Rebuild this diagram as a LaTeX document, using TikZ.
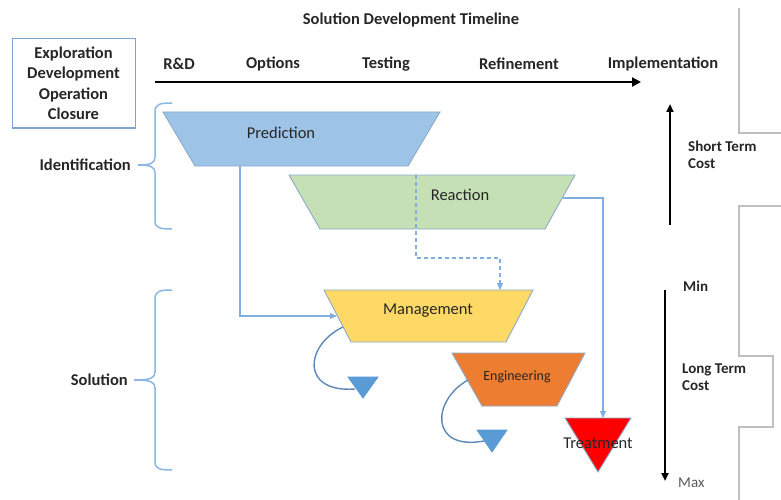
\documentclass[tikz,border=0pt]{standalone}
\usepackage{fontspec}
\setmainfont{Carlito}
\usetikzlibrary{arrows.meta}

\definecolor{ink}{HTML}{262626}
\definecolor{softink}{HTML}{595959}
\definecolor{outline}{HTML}{8EAACB}
\definecolor{connblue}{HTML}{7FAEDF}
\definecolor{braceblue}{HTML}{8DB6E3}
\definecolor{curlblue}{HTML}{5E88B6}
\definecolor{boxblue}{HTML}{7AA6D6}
\definecolor{predfill}{HTML}{9DC3E6}
\definecolor{reactfill}{HTML}{C5E0B4}
\definecolor{mgmtfill}{HTML}{FFD966}
\definecolor{engfill}{HTML}{ED7D31}
\definecolor{treatred}{HTML}{FF0000}
\definecolor{dropblue}{HTML}{5B9BD5}
\definecolor{framegray}{HTML}{BFBFBF}

\tikzset{
  lbl/.style={font=\fontsize{16.5}{20.5}\selectfont\bfseries, text=ink, inner sep=0pt},
  small lbl/.style={font=\fontsize{15}{16.5}\selectfont\bfseries, text=ink, inner sep=0pt, align=left},
  shapetxt/.style={font=\fontsize{16.5}{20}\selectfont, text=ink, inner sep=0pt},
  funnel/.style={draw=outline, line width=0.9pt, line join=miter},
  conn/.style={draw=connblue, line width=1.2pt, -{Triangle[length=7pt,width=6pt]}},
  dconn/.style={conn, dash pattern=on 4pt off 3pt},
  curl/.style={draw=curlblue, line width=1.4pt},
  brace/.style={draw=braceblue, line width=1.5pt},
  frame/.style={draw=framegray, line width=1.3pt},
  timearrow/.style={draw=black, line width=2.6pt, -{Triangle[length=9pt,width=9pt]}},
  costarrow/.style={draw=black, line width=2.2pt, -{Triangle[length=8pt,width=7pt]}},
  drop/.style={fill=dropblue, draw=dropblue, line width=0.8pt},
}

\begin{document}
\begin{tikzpicture}[x=1pt,y=-1pt]
\useasboundingbox (0,0) rectangle (781,500);

% title and lifecycle box
\node[lbl] (title) at (411,20) {Solution Development Timeline};
\node[lbl, draw=boxblue, line width=1pt, align=center, minimum width=123pt,
      minimum height=89pt] (phases) at (73.5,83.5)
  {Exploration\\Development\\Operation\\Closure};

% timeline stages
\node[lbl] (rd)   at (179,64) {R\&D};
\node[lbl] (opt)  at (273,64) {Options};
\node[lbl] (test) at (386,64) {Testing};
\node[lbl] (ref)  at (519,64) {Refinement};
\node[lbl] (impl) at (663,64) {Implementation};
\coordinate (tlstart) at (155,82);
\coordinate (tlend) at (641,82);
\draw[timearrow] (tlstart) -- (tlend);

% funnel stages
\draw[funnel, fill=predfill] (163,112) -- (440,112) -- (408,166) -- (195,166) -- cycle;
\node[shapetxt] (predtxt) at (281,133) {Prediction};

\draw[funnel, fill=reactfill] (289,175) -- (575,175) -- (545,229) -- (320,229) -- cycle;
\node[shapetxt] (reacttxt) at (460,195) {Reaction};

\draw[funnel, fill=mgmtfill] (324,290) -- (533,290) -- (506,342) -- (351,342) -- cycle;
\node[shapetxt] (mgmttxt) at (428,311) {Management};

\draw[funnel, fill=engfill] (452,353) -- (585,353) -- (557,406) -- (482,406) -- cycle;
\node[shapetxt, font=\fontsize{14}{16}\selectfont] (engtxt) at (517,377) {Engineering};

% treatment
\draw[funnel, fill=treatred] (565,418) -- (631,418) -- (598,472) -- cycle;
\node[shapetxt] (treat) at (598,443) {Treatment};

% outlet drops
\draw[drop] (348,377) -- (378,377) -- (363,398) -- cycle;
\draw[drop] (477,430) -- (507,430) -- (492,452) -- cycle;

% attachment points on the stage outlines
\coordinate (predout) at (240,166);
\coordinate (mgmtin) at (337,316);
\coordinate (reacttop) at (416,175);
\coordinate (mgmttop) at (500,290);
\coordinate (reactout) at (563,198);
\coordinate (treattop) at (603,418);
\coordinate (mgmtout) at (343,327);
\coordinate (engout) at (468,380);
\coordinate (dropA) at (355,389);
\coordinate (dropB) at (484,441);
\coordinate (dA) at (416,258);
\coordinate (dB) at (500,258);

% connectors between stages
\draw[conn] (predout) |- (mgmtin);
\draw[dconn] (reacttop) -- (dA) -- (dB) -- (mgmttop);
\draw[conn] (reactout) -| (treattop);
\draw[curl] (mgmtout) .. controls (305,345) and (300,393) .. (dropA);
\draw[curl] (engout) .. controls (432,400) and (429,451) .. (dropB);

% braces
\node[lbl, anchor=east] (ident) at (131,165) {Identification};
\coordinate (identtip) at (138,165);
\draw[brace] (172,103) .. controls (160,103) and (155,104) .. (155,112) -- (155,157)
  .. controls (155,163) and (151,165) .. (identtip);
\draw[brace] (identtip) .. controls (151,165) and (155,167) .. (155,173) -- (155,221)
  .. controls (155,228) and (160,229) .. (172,229);

\node[lbl, anchor=east] (sol) at (128,380) {Solution};
\coordinate (soltip) at (134,380);
\draw[brace] (172,290) .. controls (160,290) and (155,291) .. (155,299) -- (155,372)
  .. controls (155,378) and (151,380) .. (soltip);
\draw[brace] (soltip) .. controls (151,380) and (155,382) .. (155,388) -- (155,462)
  .. controls (155,469) and (160,470) .. (172,470);

% cost scales
\coordinate (stlow) at (670,225);
\coordinate (sthigh) at (670,104);
\draw[costarrow] (stlow) -- (sthigh);
\node[small lbl, anchor=west] (stcost) at (688,155) {Short Term\\Cost};

\coordinate (ltmin) at (665,290);
\coordinate (ltmax) at (665,481);
\draw[costarrow] (ltmin) -- (ltmax);
\node[small lbl, anchor=west] (minlbl) at (683,286) {Min};
\node[small lbl, anchor=west] (ltcost) at (682,377) {Long Term\\Cost};
\node[font=\fontsize{15}{16.5}\selectfont, text=softink, inner sep=0pt, anchor=west] (maxlbl) at (678,483) {Max};

% frame lines at the right edge
\draw[frame] (739,8) -- (739,133) -- (781,133);
\draw[frame] (781,206) -- (739,206) -- (739,356) -- (773,356) -- (773,427) -- (739,427) -- (739,500);
\end{tikzpicture}
\end{document}
